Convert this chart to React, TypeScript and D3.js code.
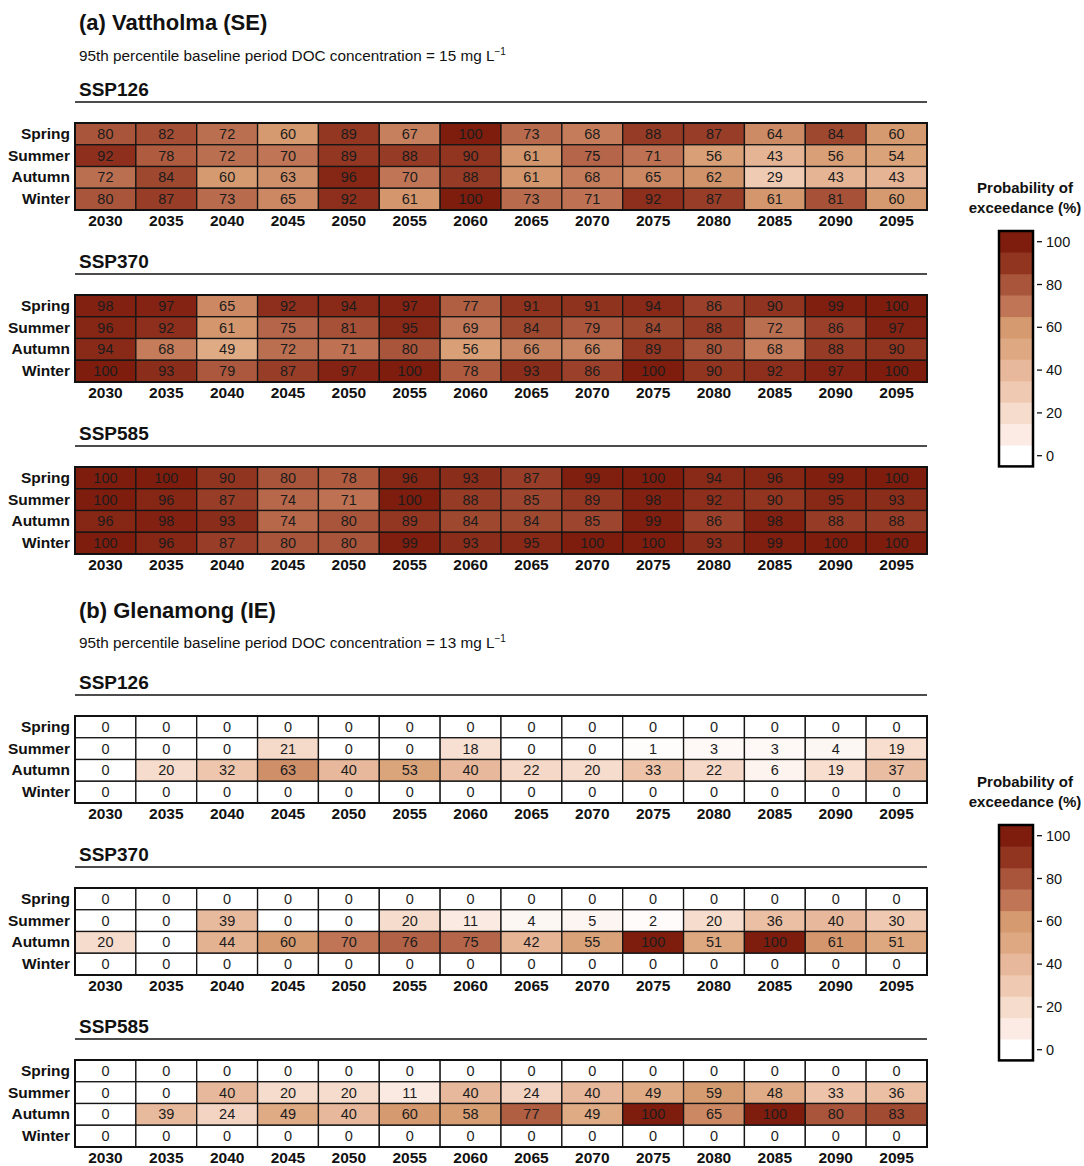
import React from 'react';
import * as d3 from 'd3';

// Probability (%) that seasonal DOC exceeds the 95th percentile baseline concentration
const years = [2030, 2035, 2040, 2045, 2050, 2055, 2060, 2065, 2070, 2075, 2080, 2085, 2090, 2095];
const seasons = ['Spring', 'Summer', 'Autumn', 'Winter'];
const scenarios = ['SSP126', 'SSP370', 'SSP585'];

const vattholmaSSP126 = [
  [80, 82, 72, 60, 89, 67, 100, 73, 68, 88, 87, 64, 84, 60],
  [92, 78, 72, 70, 89, 88, 90, 61, 75, 71, 56, 43, 56, 54],
  [72, 84, 60, 63, 96, 70, 88, 61, 68, 65, 62, 29, 43, 43],
  [80, 87, 73, 65, 92, 61, 100, 73, 71, 92, 87, 61, 81, 60],
];
const vattholmaSSP370 = [
  [98, 97, 65, 92, 94, 97, 77, 91, 91, 94, 86, 90, 99, 100],
  [96, 92, 61, 75, 81, 95, 69, 84, 79, 84, 88, 72, 86, 97],
  [94, 68, 49, 72, 71, 80, 56, 66, 66, 89, 80, 68, 88, 90],
  [100, 93, 79, 87, 97, 100, 78, 93, 86, 100, 90, 92, 97, 100],
];
const vattholmaSSP585 = [
  [100, 100, 90, 80, 78, 96, 93, 87, 99, 100, 94, 96, 99, 100],
  [100, 96, 87, 74, 71, 100, 88, 85, 89, 98, 92, 90, 95, 93],
  [96, 98, 93, 74, 80, 89, 84, 84, 85, 99, 86, 98, 88, 88],
  [100, 96, 87, 80, 80, 99, 93, 95, 100, 100, 93, 99, 100, 100],
];

const glenamongSSP126 = [
  [0, 0, 0, 0, 0, 0, 0, 0, 0, 0, 0, 0, 0, 0],
  [0, 0, 0, 21, 0, 0, 18, 0, 0, 1, 3, 3, 4, 19],
  [0, 20, 32, 63, 40, 53, 40, 22, 20, 33, 22, 6, 19, 37],
  [0, 0, 0, 0, 0, 0, 0, 0, 0, 0, 0, 0, 0, 0],
];
const glenamongSSP370 = [
  [0, 0, 0, 0, 0, 0, 0, 0, 0, 0, 0, 0, 0, 0],
  [0, 0, 39, 0, 0, 20, 11, 4, 5, 2, 20, 36, 40, 30],
  [20, 0, 44, 60, 70, 76, 75, 42, 55, 100, 51, 100, 61, 51],
  [0, 0, 0, 0, 0, 0, 0, 0, 0, 0, 0, 0, 0, 0],
];
const glenamongSSP585 = [
  [0, 0, 0, 0, 0, 0, 0, 0, 0, 0, 0, 0, 0, 0],
  [0, 0, 40, 20, 20, 11, 40, 24, 40, 49, 59, 48, 33, 36],
  [0, 39, 24, 49, 40, 60, 58, 77, 49, 100, 65, 100, 80, 83],
  [0, 0, 0, 0, 0, 0, 0, 0, 0, 0, 0, 0, 0, 0],
];

const legendBandValues = [0, 10, 20, 30, 40, 50, 60, 70, 80, 90, 100];
const legendTicks = [0, 20, 40, 60, 80, 100];
const colorStops = [
  '#ffffff', '#fbebe4', '#f6dccd', '#efc9b1', '#e7b89b', '#dea982',
  '#d59a6f', '#c07556', '#a9553b', '#913420', '#7e1c0e',
];

const FONT = "'Liberation Sans', Arial, Helvetica, sans-serif";

const color = d3.scaleLinear<string>().domain(legendBandValues).range(colorStops).interpolate(d3.interpolateRgb).clamp(true);

const GRID_LEFT = 75;
const GRID_RIGHT = 927;
const GRID_H = 87;

const xScale = d3.scaleBand<number>().domain(years).range([GRID_LEFT, GRID_RIGHT]).padding(0);
const yScale = d3.scaleBand<string>().domain(seasons).range([0, GRID_H]).padding(0);

type Section = {
  title: string;
  threshold: number;
  data: number[][][];
  titleY: number;
  subY: number;
  panelY: number;
  legendY: number;
};

const sections: Section[] = [
  { title: '(a) Vattholma (SE)', threshold: 15, data: [vattholmaSSP126, vattholmaSSP370, vattholmaSSP585], titleY: 30, subY: 61, panelY: 96, legendY: 193 },
  { title: '(b) Glenamong (IE)', threshold: 13, data: [glenamongSSP126, glenamongSSP370, glenamongSSP585], titleY: 618, subY: 648, panelY: 689, legendY: 787 },
];

const PANEL_STEP = 172;

function Heatmap({ name, values, top }: { name: string; values: number[][]; top: number }) {
  const gridTop = top + 27;
  return (
    <g>
      <text x={79} y={top} fontSize={19} fontWeight="bold" fontFamily={FONT} fill="#111">{name}</text>
      <line x1={GRID_LEFT} x2={GRID_RIGHT} y1={top + 6} y2={top + 6} stroke="#111" strokeWidth={1.5} />
      <g transform={`translate(0,${gridTop})`}>
        {seasons.map((s, i) =>
          years.map((yr, j) => {
            const v = values[i][j];
            return (
              <g key={`${s}-${yr}`}>
                <rect x={xScale(yr)} y={yScale(s)} width={xScale.bandwidth()} height={yScale.bandwidth()} fill={color(v)} stroke="#151515" strokeWidth={1.3} />
                <text x={(xScale(yr) as number) + xScale.bandwidth() / 2} y={(yScale(s) as number) + yScale.bandwidth() / 2 + 5} textAnchor="middle" fontSize={14.5} fontFamily={FONT} fill="#1c1c1c">{v}</text>
              </g>
            );
          })
        )}
        <rect x={GRID_LEFT} y={0} width={GRID_RIGHT - GRID_LEFT} height={GRID_H} fill="none" stroke="#111" strokeWidth={2} />
        {seasons.map((s) => (
          <text key={s} x={70} y={(yScale(s) as number) + yScale.bandwidth() / 2 + 5} textAnchor="end" fontSize={15.5} fontWeight="bold" fontFamily={FONT} fill="#111">{s}</text>
        ))}
        {years.map((yr) => (
          <text key={yr} x={(xScale(yr) as number) + xScale.bandwidth() / 2} y={GRID_H + 16} textAnchor="middle" fontSize={15.5} fontWeight="bold" fontFamily={FONT} fill="#111">{yr}</text>
        ))}
      </g>
    </g>
  );
}

function Legend({ top }: { top: number }) {
  const barTop = top + 38;
  const step = 21.4;
  const barH = step * legendBandValues.length;
  const barX = 999;
  const barW = 34;
  const ly = d3.scaleLinear().domain([0, 100]).range([barTop + barH - step / 2, barTop + step / 2]);
  return (
    <g>
      <text x={1025} y={top} textAnchor="middle" fontSize={15} fontWeight="bold" fontFamily={FONT} fill="#111">Probability of</text>
      <text x={1025} y={top + 20} textAnchor="middle" fontSize={15} fontWeight="bold" fontFamily={FONT} fill="#111">exceedance (%)</text>
      {legendBandValues.map((v) => (
        <rect key={v} x={barX} y={ly(v) - step / 2} width={barW} height={step + 0.5} fill={color(v)} />
      ))}
      <rect x={barX} y={barTop} width={barW} height={barH} fill="none" stroke="#000" strokeWidth={2.5} />
      {legendTicks.map((t) => (
        <g key={t}>
          <line x1={barX + barW + 4} x2={barX + barW + 9} y1={ly(t)} y2={ly(t)} stroke="#111" strokeWidth={1.3} />
          <text x={barX + barW + 13} y={ly(t) + 5} fontSize={14.5} fontFamily={FONT} fill="#111">{t}</text>
        </g>
      ))}
    </g>
  );
}

export default function App() {
  return (
    <svg width={1084} height={1166} style={{ position: 'absolute', left: 0, top: 0, background: '#fff' }}>
      <rect width={1084} height={1166} fill="#fff" />
      {sections.map((sec) => (
        <g key={sec.title}>
          <text x={79} y={sec.titleY} fontSize={22} fontWeight="bold" fontFamily={FONT} fill="#111">{sec.title}</text>
          <text x={79} y={sec.subY} fontSize={15.3} fontFamily={FONT} fill="#111">
            {`95th percentile baseline period DOC concentration = ${sec.threshold} mg L`}
            <tspan fontSize={10} dy={-6}>−1</tspan>
          </text>
          {scenarios.map((sc, k) => (
            <Heatmap key={sc} name={sc} values={sec.data[k]} top={sec.panelY + k * PANEL_STEP} />
          ))}
          <Legend top={sec.legendY} />
        </g>
      ))}
    </svg>
  );
}
